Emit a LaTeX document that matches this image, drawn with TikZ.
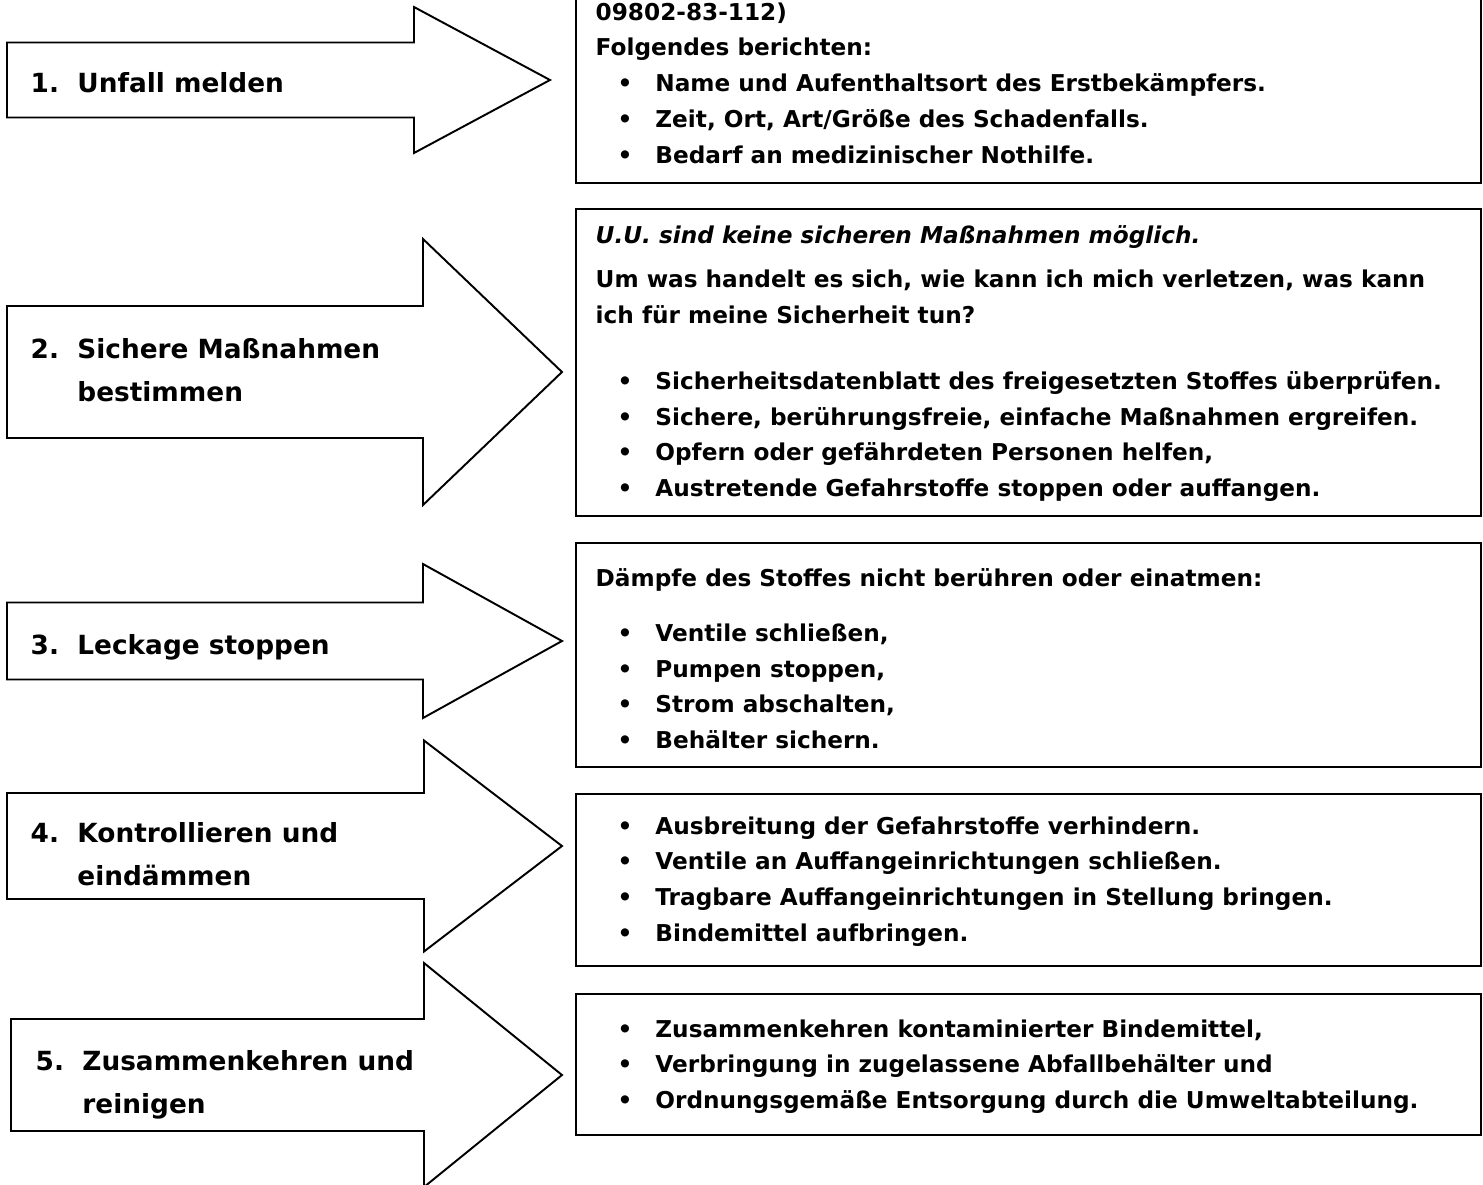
\documentclass[tikz,border=0pt]{standalone}
\usepackage{fontspec}
\setmainfont{DejaVu Sans}
\usetikzlibrary{positioning}

% big block arrow: left x, head base x, tip x, middle y, half shaft, half head
\newcommand{\steparrow}[6]{%
  \draw[arrowblock] (#1,#4-#5) -- (#2,#4-#5) -- (#2,#4-#6) -- (#3,#4)
    -- (#2,#4+#6) -- (#2,#4+#5) -- (#1,#4+#5) -- cycle;}
% numbered step with hanging second line
\newcommand{\steplabel}[2]{\begin{tabular}[t]{@{}p{26.6pt}@{}l@{}}#1 & #2\end{tabular}}
% bullet line
\newcommand{\bpoint}[1]{\hspace*{12.5pt}\makebox[21.5pt][l]{\textbullet}#1}

\begin{document}
\begin{tikzpicture}[x=0.02cm, y=-0.02cm, thick]
    % Styles
    \tikzstyle{arrowblock} = [draw, fill=white, line width=1.1pt, line join=miter]
    \tikzstyle{infobox} = [draw, anchor=north west, inner sep=0pt, line width=1.1pt]
    \tikzstyle{steptext} = [anchor=base west, inner sep=0pt, font=\fontsize{15}{25}\selectfont\bfseries]
    \tikzstyle{infotext} = [anchor=base west, inner sep=0pt, font=\fontsize{13.2}{20.4}\selectfont\bfseries]

    \clip (0,0) rectangle (1483,1184);

    % Arrows
    \steparrow{7}{414}{550}{80}{37.5}{73}
    \steparrow{7}{423}{562}{372}{66}{133}
    \steparrow{7}{423}{562}{641}{38.5}{77}
    \steparrow{7}{424}{562}{846}{53}{105.5}
    \steparrow{11}{424}{562}{1075}{56}{112}

    % Step labels
    \node[steptext] (step1) at (30,92) {\steplabel{1.}{Unfall melden}};
    \node[steptext] (step2) at (30,358) {\steplabel{2.}{Sichere Maßnahmen\\ & bestimmen}};
    \node[steptext] (step3) at (30,654) {\steplabel{3.}{Leckage stoppen}};
    \node[steptext] (step4) at (30,842) {\steplabel{4.}{Kontrollieren und\\ & eindämmen}};
    \node[steptext] (step5) at (35,1070) {\steplabel{5.}{Zusammenkehren und\\ & reinigen}};

    % Boxes
    \node[infobox, minimum width=18.1cm, minimum height=4.24cm] (box1) at (575,-30) {};
    \node[infobox, minimum width=18.1cm, minimum height=6.14cm] (box2) at (575,208) {};
    \node[infobox, minimum width=18.1cm, minimum height=4.48cm] (box3) at (575,542) {};
    \node[infobox, minimum width=18.1cm, minimum height=3.44cm] (box4) at (575,793) {};
    \node[infobox, minimum width=18.1cm, minimum height=2.82cm] (box5) at (575,993) {};

    % Box texts
    \node[infotext] (info1) at (595,20) {\begin{tabular}[t]{@{}l@{}}
        09802-83-112)\\
        Folgendes berichten:\\
        \bpoint{Name und Aufenthaltsort des Erstbekämpfers.}\\
        \bpoint{Zeit, Ort, Art/Größe des Schadenfalls.}\\
        \bpoint{Bedarf an medizinischer Nothilfe.}
      \end{tabular}};
    \node[infotext] (info2) at (595,243) {\begin{tabular}[t]{@{}l@{}}
        \itshape U.U. sind keine sicheren Maßnahmen möglich.\\[5pt]
        Um was handelt es sich, wie kann ich mich verletzen, was kann\\
        ich für meine Sicherheit tun?\\[17pt]
        \bpoint{Sicherheitsdatenblatt des freigesetzten Stoffes überprüfen.}\\
        \bpoint{Sichere, berührungsfreie, einfache Maßnahmen ergreifen.}\\
        \bpoint{Opfern oder gefährdeten Personen helfen,}\\
        \bpoint{Austretende Gefahrstoffe stoppen oder auffangen.}
      \end{tabular}};
    \node[infotext] (info3) at (595,586) {\begin{tabular}[t]{@{}l@{}}
        Dämpfe des Stoffes nicht berühren oder einatmen:\\[11pt]
        \bpoint{Ventile schließen,}\\
        \bpoint{Pumpen stoppen,}\\
        \bpoint{Strom abschalten,}\\
        \bpoint{Behälter sichern.}
      \end{tabular}};
    \node[infotext] (info4) at (595,834) {\begin{tabular}[t]{@{}l@{}}
        \bpoint{Ausbreitung der Gefahrstoffe verhindern.}\\
        \bpoint{Ventile an Auffangeinrichtungen schließen.}\\
        \bpoint{Tragbare Auffangeinrichtungen in Stellung bringen.}\\
        \bpoint{Bindemittel aufbringen.}
      \end{tabular}};
    \node[infotext] (info5) at (595,1037) {\begin{tabular}[t]{@{}l@{}}
        \bpoint{Zusammenkehren kontaminierter Bindemittel,}\\
        \bpoint{Verbringung in zugelassene Abfallbehälter und}\\
        \bpoint{Ordnungsgemäße Entsorgung durch die Umweltabteilung.}
      \end{tabular}};
\end{tikzpicture}
\end{document}
